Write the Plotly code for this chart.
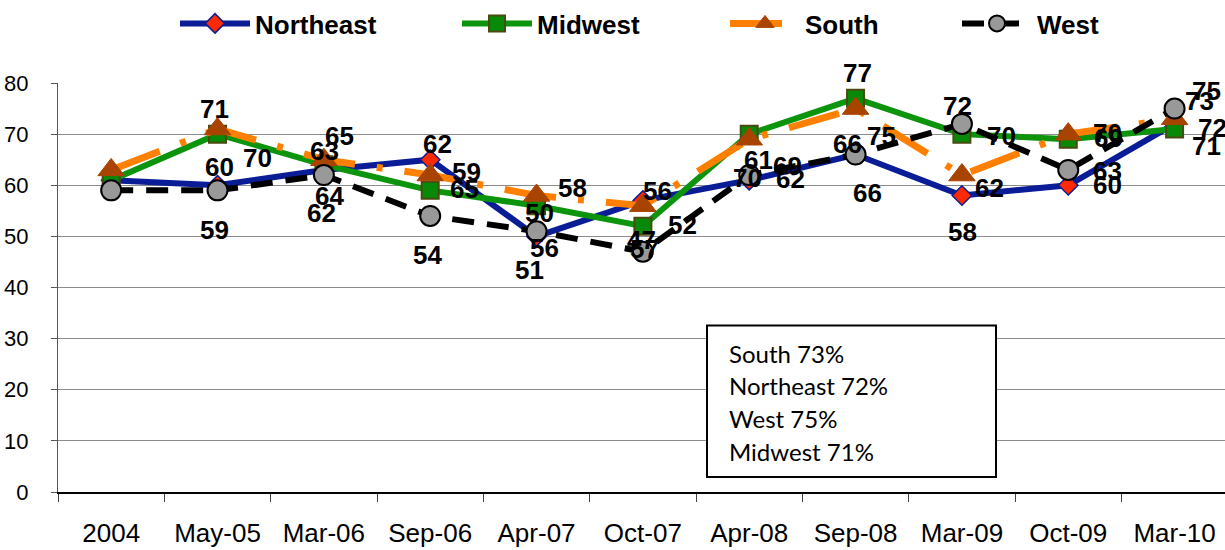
import plotly.graph_objects as go

# Survey waves and regional scores
categories = ["2004", "May-05", "Mar-06", "Sep-06", "Apr-07", "Oct-07",
              "Apr-08", "Sep-08", "Mar-09", "Oct-09", "Mar-10"]
northeast = [61, 60, 63, 65, 50, 57, 61, 66, 58, 60, 72]
midwest = [61, 70, 64, 59, 56, 52, 70, 77, 70, 69, 71]
south = [63, 71, 65, 62, 58, 56, 69, 75, 62, 70, 73]
west = [59, 59, 62, 54, 51, 47, 62, 66, 72, 63, 75]

summary_lines = ["South 73%", "Northeast 72%", "West 75%", "Midwest 71%"]

# Pixel offsets (right, down) of each value label from its point
ne_label_offsets = [(-47, -3), (2, -18), (1, -19), (34, 29), (3, -23), (2, 48),
                    (9, -20), (12, 38), (1, 37), (39, 0), (38, 4)]
mw_label_offsets = [(28, -5), (40, 24), (6, 31), (36, -18), (8, 42), (40, -1),
                    (-2, 44), (2, -25), (40, 2), (40, -1), (32, 17)]
s_label_offsets = [(3, 44), (-3, -20), (16, -24), (7, -31), (36, -7), (15, -15),
                   (38, 27), (26, 27), (28, 13), (39, -1), (25, -18)]
w_label_offsets = [(-27, 12), (-3, 40), (-2, 38), (-3, 39), (-7, 39), (-1, -12),
                   (41, 4), (-8, -11), (-4, -18), (39, 1), (32, -18)]

W, H = 1225, 550
ML, MR, MT, MB = 58, 0, 82, 58
PW, PH = W - ML - MR, H - MT - MB


def px_x(p):
    return (p - ML) / PW


def px_y(p):
    return (H - MB - p) / PH


series = [
    dict(name="Northeast", y=northeast, offs=ne_label_offsets, legend="legend",
         line=dict(color="#0A1C96", width=6),
         marker=dict(symbol="diamond", size=15, color="#FF2A00",
                     line=dict(color="#0A1C96", width=1.5))),
    dict(name="Midwest", y=midwest, offs=mw_label_offsets, legend="legend2",
         line=dict(color="#0C940C", width=6),
         marker=dict(symbol="square", size=17, color="#088A08",
                     line=dict(color="#4A4A12", width=2))),
    dict(name="South", y=south, offs=s_label_offsets, legend="legend3",
         line=dict(color="#FF8000", width=7, dash="52px,22px,6px,22px"),
         marker=dict(symbol="triangle-up", size=23, color="#A84400",
                     line=dict(color="#A84400", width=1))),
    dict(name="West", y=west, offs=w_label_offsets, legend="legend4",
         line=dict(color="#000000", width=6, dash="22px,13px"),
         marker=dict(symbol="circle", size=20, color="#999999",
                     line=dict(color="#000000", width=2))),
]

fig = go.Figure()
annotations = []
for s in series:
    fig.add_trace(go.Scatter(
        x=categories, y=s["y"], name=s["name"], mode="lines+markers",
        line=s["line"], marker=s["marker"], legend=s["legend"],
        cliponaxis=False,
    ))
    for cat, val, (dx, dy) in zip(categories, s["y"], s["offs"]):
        annotations.append(dict(
            x=cat, y=val, xref="x", yref="y", text=str(val), showarrow=False,
            xshift=dx, yshift=-dy,
            font=dict(family="Arial, Liberation Sans", size=26, color="#000000",
                      weight="bold"),
        ))

# Summary text box
box = dict(type="rect", xref="paper", yref="paper",
           x0=px_x(707), x1=px_x(996), y0=px_y(477), y1=px_y(325),
           fillcolor="#FFFFFF", line=dict(color="#000000", width=2),
           layer="above")
for i, line in enumerate(summary_lines):
    annotations.append(dict(
        x=px_x(727), y=px_y(353 + 32.7 * i), xref="paper", yref="paper",
        xanchor="left", yanchor="middle", text=line, showarrow=False,
        font=dict(family="Lato, Open Sans", size=24, color="#000000"),
    ))

legend_font = dict(family="Arial, Liberation Sans", size=26, color="#000000",
                   weight="bold")
legend_starts = [175, 457, 725, 957]
legend_common = dict(orientation="h", yanchor="middle", xanchor="left",
                     y=px_y(22), font=legend_font, itemwidth=70,
                     bgcolor="rgba(0,0,0,0)", borderwidth=0)

layout_legends = {}
for key, xs in zip(["legend", "legend2", "legend3", "legend4"], legend_starts):
    layout_legends[key] = dict(x=px_x(xs), **legend_common)

fig.update_layout(
    width=W, height=H,
    margin=dict(l=ML, r=MR, t=MT, b=MB, pad=0),
    paper_bgcolor="#FFFFFF", plot_bgcolor="#FFFFFF",
    showlegend=True,
    annotations=annotations,
    shapes=[box],
    xaxis=dict(
        type="category", range=[-0.5, 10.474],
        showgrid=False, showline=True, linecolor="#000000", linewidth=1.5,
        ticks="outside", tickson="boundaries", ticklen=8, tickcolor="#444444",
        tickfont=dict(family="Arial, Liberation Sans", size=26, color="#000000"),
        ticklabelstandoff=17,
    ),
    yaxis=dict(
        range=[0, 80], dtick=10, showgrid=True, gridcolor="#8C8C8C",
        gridwidth=1.2, zeroline=False, showline=True, linecolor="#555555",
        linewidth=1.2, ticks="outside", ticklen=6, tickcolor="#555555",
        tickfont=dict(family="Arial, Liberation Sans", size=22, color="#000000"),
        ticklabelstandoff=18,
    ),
    **layout_legends,
)

fig.write_html("out.html")
